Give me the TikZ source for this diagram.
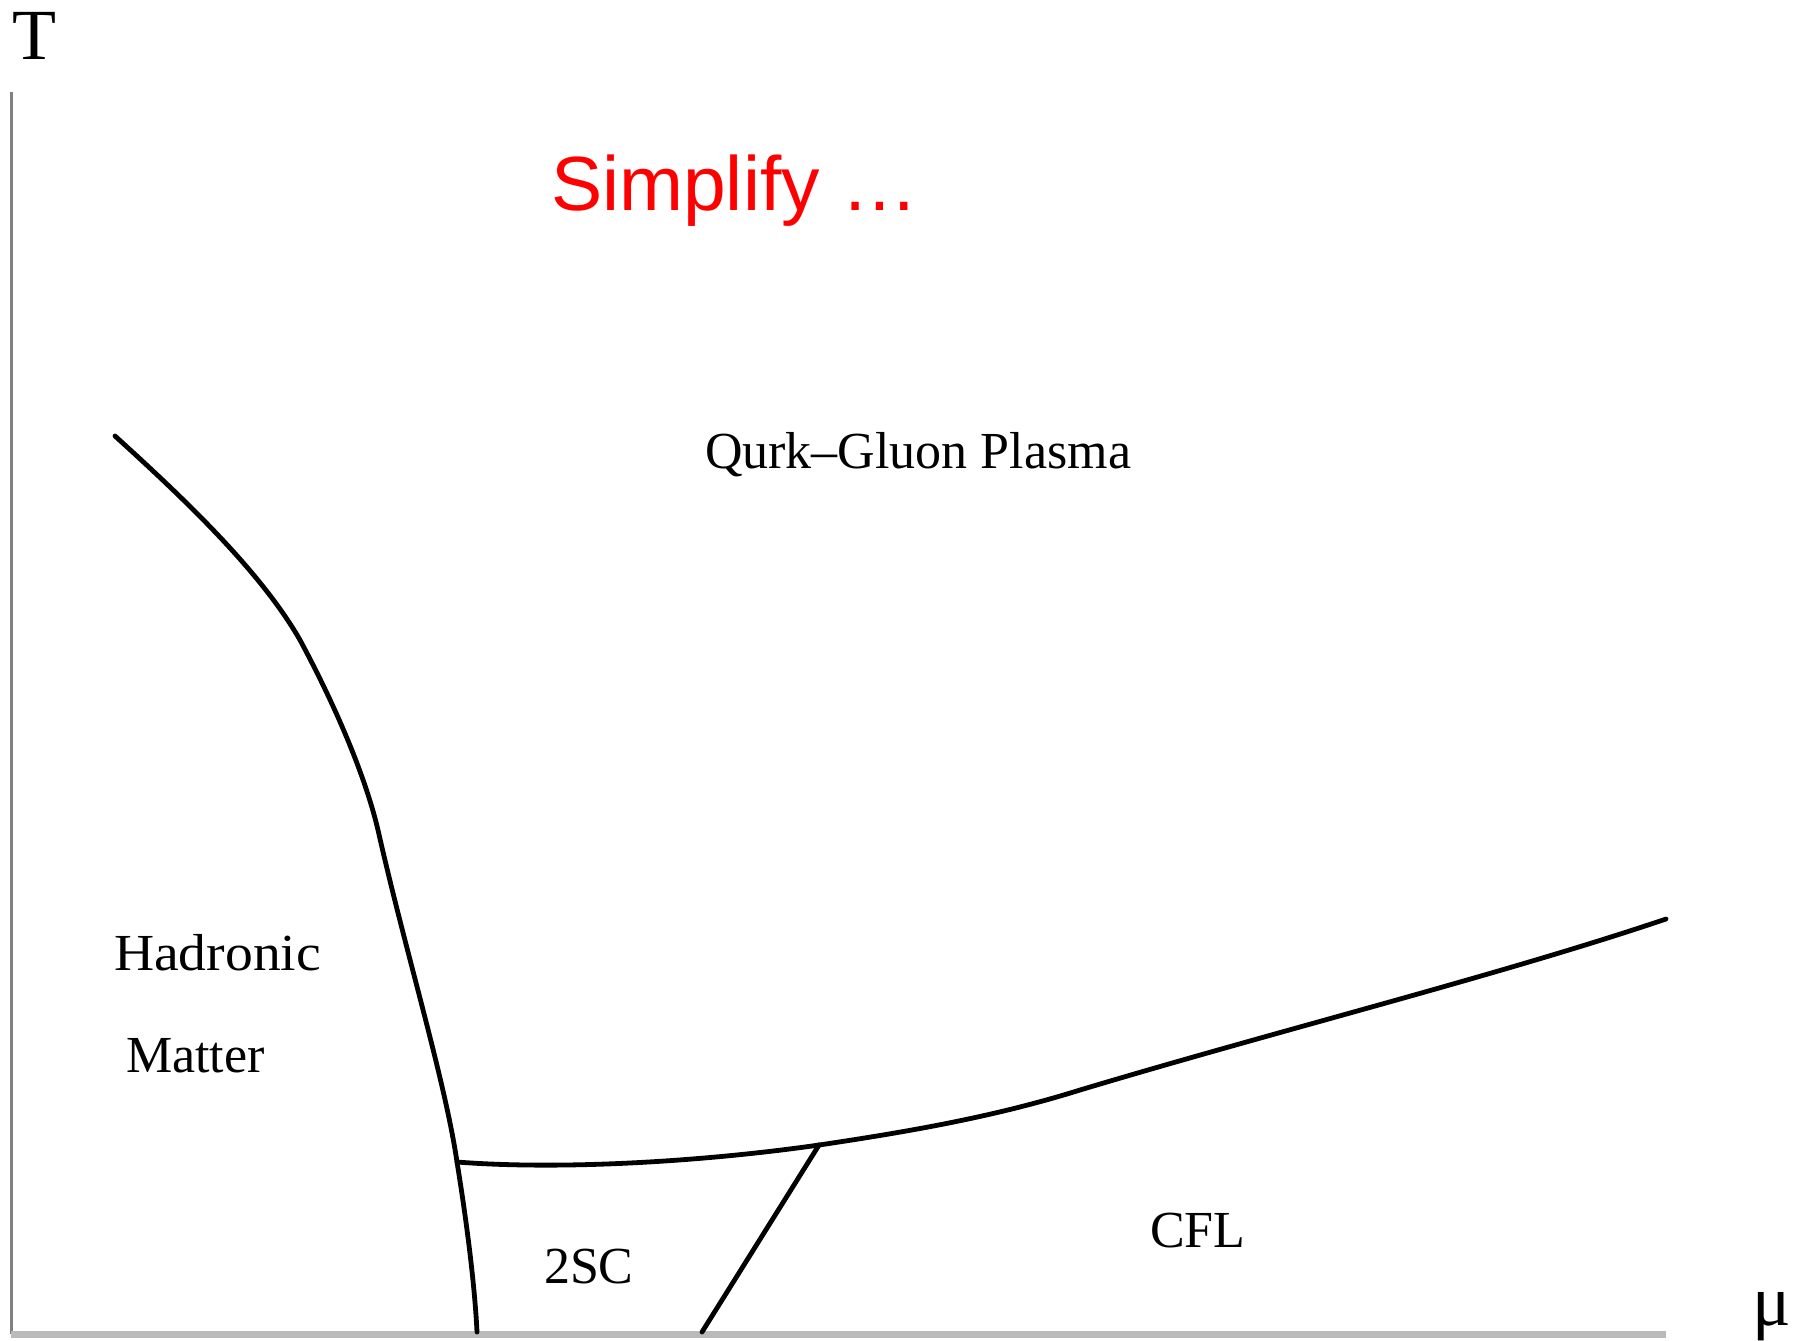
\documentclass[tikz,border=0pt]{standalone}
\usepackage{fontspec}
\setmainfont{Liberation Serif}
\newfontfamily\arialfont{Liberation Sans}
\begin{document}
\begin{tikzpicture}[x=0.5pt,y=-0.5pt,
  lbl/.style={inner sep=0pt,outer sep=0pt,anchor=base west,font=\fontsize{26}{30}\selectfont},
  axislbl/.style={inner sep=0pt,outer sep=0pt,anchor=base west,font=\fontsize{36}{40}\selectfont},
  boundary/.style={line width=2.4pt,black,line cap=round,line join=round}]
\useasboundingbox[fill=white] (0,0) rectangle (1808,1340);
% axes
\draw[line width=1.5pt,color=black!50] (11,92) -- (11,1334);
\draw[line width=3.5pt,color=black!27] (11,1334) -- (1666,1334);
% labels
\node[axislbl] (T) at (12,59) {T};
\node[axislbl] (mu) at (1752,1325) {μ};
\node[inner sep=0pt,outer sep=0pt,anchor=base west,text=red,font=\arialfont\fontsize{38.4}{44}\selectfont] (title) at (551,210) {Simplify …};
\node[lbl] (qgp) at (705,468) {Qurk–Gluon Plasma};
\node[lbl,xscale=1.07] (had) at (114,970) {Hadronic};
\node[lbl] (mat) at (126,1072) {Matter};
\node[lbl] (tsc) at (544,1283) {2SC};
\node[lbl] (cfl) at (1150,1247) {CFL};
% boundaries
\coordinate (j1) at (457,1162);
\coordinate (j2) at (819,1145);
\coordinate (b1) at (477,1332);
\coordinate (b2) at (702,1332);
\draw[boundary] (115,436) .. controls (180,495) and (260,570) .. (300,640)
  .. controls (335,705) and (365,775) .. (378,830)
  .. controls (405,950) and (445,1080) .. (j1)
  .. controls (468,1230) and (475,1290) .. (b1);
\draw[boundary] (j1) .. controls (560,1170) and (700,1162) .. (j2);
\draw[boundary] (j2) -- (b2);
\draw[boundary] (j2) .. controls (920,1130) and (1000,1115) .. (1080,1090)
  .. controls (1280,1030) and (1500,975) .. (1666,919);
\end{tikzpicture}
\end{document}
